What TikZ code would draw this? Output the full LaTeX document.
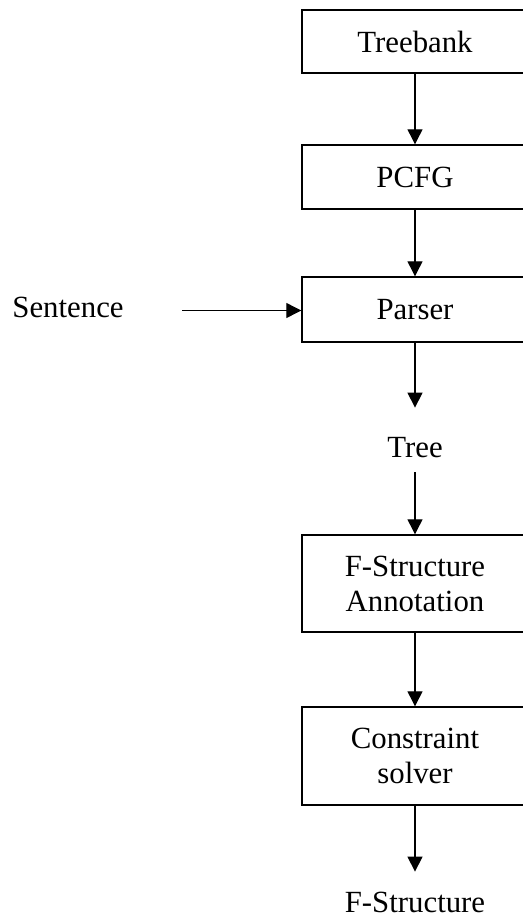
\documentclass[tikz,border=0pt]{standalone}
\usepackage{fontspec}
\setmainfont{Liberation Serif}
\usetikzlibrary{arrows.meta}

\tikzset{
  stage/.style={draw, line width=0.7pt, minimum width=113pt, inner sep=0pt,
    align=center, font=\fontsize{15.4}{17.5}\selectfont},
  word/.style={inner sep=0pt, font=\fontsize{15.4}{17.5}\selectfont},
  flow/.style={-{Triangle[length=7.5pt,width=7.5pt]}, line width=0.6pt}
}

\begin{document}
\begin{tikzpicture}[x=0.5pt,y=0.5pt]
                \useasboundingbox (0,0) rectangle (523,-916);
                % pipeline
                \node[stage, minimum height=31.5pt] (treebank) at (415,-41.5) {Treebank};
                \node[stage, minimum height=32pt] (pcfg) at (415,-177) {PCFG};
                \node[stage, minimum height=32.5pt] (parser) at (415,-309.5) {Parser};
                \node[word, text height=24.5pt, text depth=7.5pt, anchor=base] (tree) at (415,-457) {Tree};
                \node[stage, minimum height=48.5pt] (fsannot) at (415,-583.5) {F-Structure\\Annotation};
                \node[stage, minimum height=49pt] (solver) at (415,-756) {Constraint\\solver};
                \node[word, text height=20pt, anchor=base] (fstruct) at (415,-912) {F-Structure};
                % input
                \node[word, anchor=base] (sentence) at (68,-317) {Sentence};
                \coordinate (sentout) at (182,-310.5);

                \draw[flow] (treebank) -- (pcfg);
                \draw[flow] (pcfg) -- (parser);
                \draw[flow] (sentout) -- (parser.west |- sentout);
                \draw[flow] (parser) -- (tree);
                \draw[flow] (tree) -- (fsannot);
                \draw[flow] (fsannot) -- (solver);
                \draw[flow] (solver) -- (fstruct);
\end{tikzpicture}
\end{document}
